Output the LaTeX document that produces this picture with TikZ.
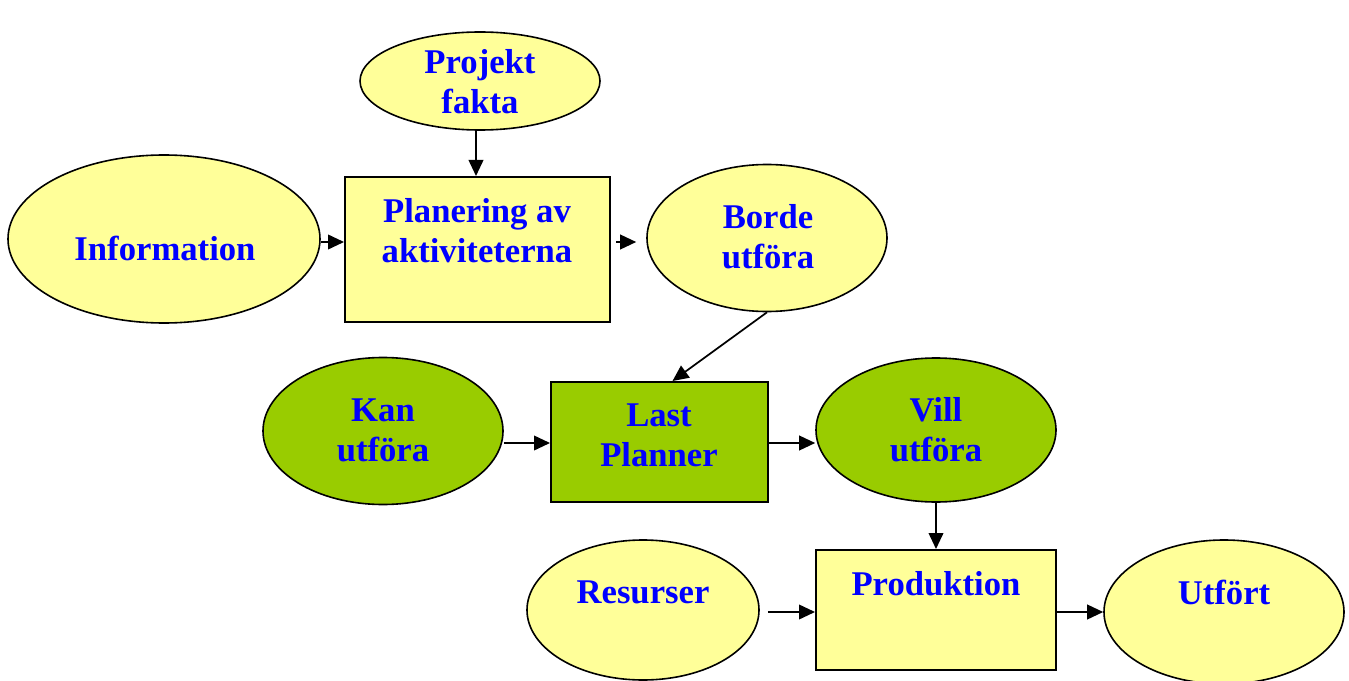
\documentclass[tikz,border=0pt]{standalone}
\usepackage{fontspec}
\setmainfont{Liberation Serif}
\usetikzlibrary{shapes.geometric,arrows.meta}
\definecolor{paleyellow}{HTML}{FFFF99}
\definecolor{leafgreen}{HTML}{99CC00}
\definecolor{textblue}{HTML}{0000FF}
\begin{document}
\begin{tikzpicture}[x=0.75pt,y=-0.75pt,
  oval/.style={ellipse,draw=black,line width=1.2pt,inner sep=0pt},
  box/.style={rectangle,draw=black,line width=1.5pt,inner sep=0pt},
  yel/.style={fill=paleyellow},
  grn/.style={fill=leafgreen},
  txt/.style={font=\fontsize{26}{30}\selectfont\bfseries,text=textblue,align=center,inner sep=0pt},
  flow/.style={line width=1.3pt,-{Triangle[length=12pt,width=11pt]}}]
\useasboundingbox (0,0) rectangle (1349,681);
% shapes
\node[oval,yel,minimum width=240*0.75pt,minimum height=98*0.75pt] (pf) at (480,81) {};
\node[oval,yel,minimum width=312*0.75pt,minimum height=168*0.75pt] (info) at (164,239) {};
\node[box,yel,minimum width=265*0.75pt,minimum height=145*0.75pt] (plan) at (477.5,249.5) {};
\node[oval,yel,minimum width=240*0.75pt,minimum height=147*0.75pt] (borde) at (767,238) {};
\node[oval,grn,minimum width=240*0.75pt,minimum height=147*0.75pt] (kan) at (383,431) {};
\node[box,grn,minimum width=217*0.75pt,minimum height=120*0.75pt] (lp) at (659.5,442) {};
\node[oval,grn,minimum width=240*0.75pt,minimum height=144*0.75pt] (vill) at (936,430) {};
\node[oval,yel,minimum width=232*0.75pt,minimum height=140*0.75pt] (res) at (643,610) {};
\node[box,yel,minimum width=240*0.75pt,minimum height=120*0.75pt] (prod) at (936,610) {};
\node[oval,yel,minimum width=240*0.75pt,minimum height=144*0.75pt] (utf) at (1224,612) {};
% labels
\node[txt] (pft) at (480,82) {Projekt\\fakta};
\node[txt] (infot) at (165,248) {Information};
\node[txt] (plant) at (477,231) {Planering av\\aktiviteterna};
\node[txt] (bordet) at (768,237) {Borde\\utföra};
\node[txt] (kant) at (383,430) {Kan\\utföra};
\node[txt] (lpt) at (659,435) {Last\\Planner};
\node[txt] (villt) at (936,430) {Vill\\utföra};
\node[txt] (rest) at (643,592) {Resurser};
\node[txt] (prodt) at (936,584) {Produktion};
\node[txt] (utft) at (1224,592) {Utfört};
% connectors
\draw[flow] ([xshift=-4*0.75pt]pf.south) -- ([xshift=-1.5*0.75pt]plan.north);
\draw[flow] ([yshift=-3*0.75pt]info.east) -- ([yshift=7.5*0.75pt]plan.west);
\draw[flow] ([xshift=5*0.75pt,yshift=7.5*0.75pt]plan.east) -- ([xshift=-10*0.75pt,yshift=-4*0.75pt]borde.west);
\draw[flow] (borde.south) -- ([xshift=13*0.75pt]lp.north);
\draw[flow] ([yshift=-12*0.75pt]kan.east) -- ([yshift=-1*0.75pt]lp.west);
\draw[flow] ([yshift=-1*0.75pt]lp.east) -- ([yshift=-13*0.75pt]vill.west);
\draw[flow] (vill.south) -- (prod.north);
\draw[flow] ([xshift=8*0.75pt,yshift=-2*0.75pt]res.east) -- ([yshift=-2*0.75pt]prod.west);
\draw[flow] ([yshift=-2*0.75pt]prod.east) -- (utf.west);
\end{tikzpicture}
\end{document}
